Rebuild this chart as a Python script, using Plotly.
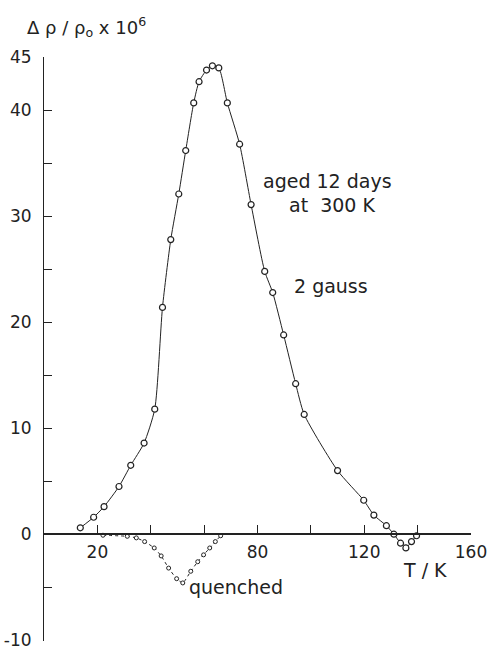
import plotly.graph_objects as go

# Aged 12 days at 300 K (2 gauss)
aged_T = [13.6, 18.6, 22.5, 28.1, 32.5, 37.5, 41.5, 44.4, 47.5, 50.5, 53.1, 56.1, 58.1,
          60.9, 63.1, 65.5, 68.7, 73.3, 77.6, 82.7, 85.7, 89.8, 94.3, 97.5, 110.0,
          119.8, 123.6, 128.3, 131.1, 133.6, 135.6, 137.7, 139.6]
aged_v = [0.6, 1.6, 2.6, 4.5, 6.5, 8.6, 11.8, 21.4, 27.8, 32.1, 36.2, 40.7, 42.7,
          43.8, 44.2, 44.0, 40.7, 36.8, 31.1, 24.8, 22.8, 18.8, 14.2, 11.3, 6.0,
          3.2, 1.8, 0.8, 0.0, -0.85, -1.3, -0.7, -0.15]

# Quenched sample
quen_T = [22.1, 31.2, 34.6, 37.7, 41.3, 43.9, 46.7, 49.7, 52.0, 55.0, 57.6, 59.8, 62.1, 64.2, 66.2]
quen_v = [-0.1, -0.2, -0.35, -0.7, -1.3, -2.05, -3.2, -4.2, -4.6, -3.5, -2.6, -1.95, -1.3, -0.7, -0.15]

x_ticks = [20, 80, 120, 160]
x_labels = ["20", "80", "120", "160"]
y_ticks = [-10, 0, 10, 20, 30, 40, 45]
y_labels = ["-10", "0", "10", "20", "30", "40", "45"]

FONT = "DejaVu Sans"
INK = "#222222"
Y_RANGE = [-10.08, 45.03]

fig = go.Figure()
fig.add_trace(go.Scatter(
    x=quen_T, y=quen_v, mode="lines+markers",
    line=dict(color=INK, width=1, dash="dot", shape="spline", smoothing=0.5),
    marker=dict(symbol="circle", size=4, color="white", line=dict(color=INK, width=1)),
    showlegend=False, cliponaxis=False))
fig.add_trace(go.Scatter(
    x=aged_T, y=aged_v, mode="lines+markers",
    line=dict(color=INK, width=1, shape="spline", smoothing=0.6),
    marker=dict(symbol="circle", size=6, color="white", line=dict(color=INK, width=1.2)),
    showlegend=False, cliponaxis=False))

ann = dict(showarrow=False, font=dict(family=FONT, size=19, color=INK), xref="x", yref="y")
fig.add_annotation(text="aged 12 days", x=106.4, y=33.3, **ann)
fig.add_annotation(text="at  300 K", x=108.0, y=31.1, **ann)
fig.add_annotation(text="2 gauss", x=107.7, y=23.4, **ann)
fig.add_annotation(text="quenched", x=71.9, y=-5.0, **ann)
fig.add_annotation(text="T / K", x=142.7, y=-3.4, **ann)
fig.add_annotation(text="Δ ρ / ρ<sub>o</sub> x 10<sup>6</sup>", x=-0.045, y=1.051,
                   xref="paper", yref="paper", xanchor="left", yanchor="middle",
                   showarrow=False, font=dict(family=FONT, size=18, color=INK))

fig.update_layout(
    width=489, height=648,
    margin=dict(l=44, r=18, t=57, b=7, autoexpand=False),
    paper_bgcolor="white", plot_bgcolor="white",
    font=dict(family=FONT, size=17, color=INK),
    xaxis=dict(range=[0, 160], anchor="free",
               position=-Y_RANGE[0] / (Y_RANGE[1] - Y_RANGE[0]), automargin=False,
               tickvals=x_ticks, ticktext=x_labels, ticks="inside", ticklen=8,
               tickcolor=INK, tickwidth=1, showline=True, linecolor=INK, linewidth=1.5,
               showgrid=False, zeroline=False, ticklabelstandoff=3,
               ticklabeloverflow="allow",
               tickfont=dict(family=FONT, size=17, color=INK),
               minor=dict(dtick=20, tick0=0, ticks="inside", ticklen=8,
                          tickcolor=INK, tickwidth=1, showgrid=False)),
    yaxis=dict(range=Y_RANGE, tickvals=y_ticks, ticktext=y_labels, ticks="inside",
               automargin=False, tickfont=dict(family=FONT, size=17, color=INK),
               ticklabeloverflow="allow",
               ticklen=8, tickcolor=INK, tickwidth=1, showline=True, linecolor=INK,
               linewidth=1, showgrid=False, zeroline=False, ticklabelstandoff=8,
               minor=dict(dtick=5, tick0=0, ticks="inside", ticklen=8,
                          tickcolor=INK, tickwidth=1, showgrid=False)),
)

# remove the default 8px page margin so the figure fills the window exactly
fig.write_html("out.html", config={"displayModeBar": False},
               post_script="document.body.style.margin='0';document.body.style.overflow='hidden';")
